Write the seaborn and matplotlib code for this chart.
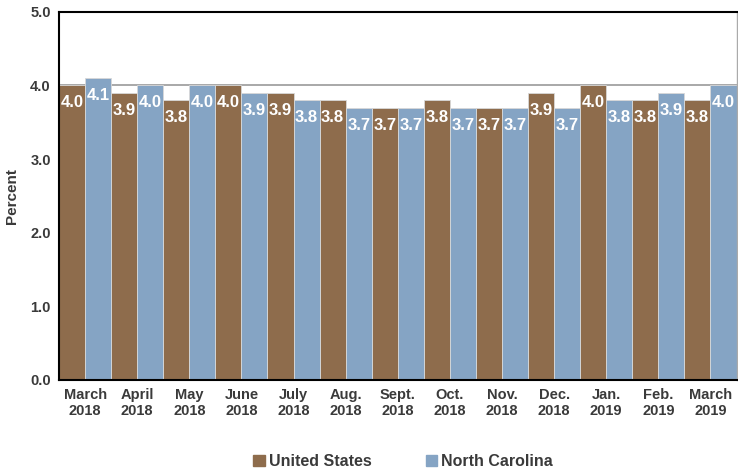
import pandas as pd
import matplotlib
matplotlib.use("Agg")
import matplotlib.pyplot as plt
import seaborn as sns

# ── Data ───────────────────────────────────────────────────────────────
months = ["March\n2018", "April\n2018", "May\n2018", "June\n2018", "July\n2018",
          "Aug.\n2018", "Sept.\n2018", "Oct.\n2018", "Nov.\n2018", "Dec.\n2018",
          "Jan.\n2019", "Feb.\n2019", "March\n2019"]
us_rate = [4.0, 3.9, 3.8, 4.0, 3.9, 3.8, 3.7, 3.8, 3.7, 3.9, 4.0, 3.8, 3.8]
nc_rate = [4.1, 4.0, 4.0, 3.9, 3.8, 3.7, 3.7, 3.7, 3.7, 3.7, 3.8, 3.9, 4.0]
series = ["United States", "North Carolina"]

COLORS = {"United States": "#8E6C4C", "North Carolina": "#85A4C4"}
TEXT = "#3a3a3a"

df = pd.DataFrame({
    "month": months * 2,
    "rate": us_rate + nc_rate,
    "area": [series[0]] * len(months) + [series[1]] * len(months),
})

sns.set_style("white")
plt.rcParams["font.family"] = ["Liberation Sans", "DejaVu Sans"]
plt.rcParams["font.weight"] = "bold"

fig = plt.figure(figsize=(7.38, 4.72), dpi=100)
ax = fig.add_axes([0.080, 0.195, 0.918, 0.780])

sns.barplot(data=df, x="month", y="rate", hue="area", order=months,
            hue_order=series, palette=COLORS, saturation=1, width=1.0, gap=0,
            edgecolor="#d8d8d8", linewidth=0.6, ax=ax, legend=False)

# gridlines behind the bars
ax.set_axisbelow(True)
ax.yaxis.grid(True, color="#999999", linewidth=1.2)
ax.set_ylim(0, 5)
ax.set_yticks([0, 1, 2, 3, 4, 5])
ax.set_yticklabels([f"{v:.1f}" for v in range(6)])
ax.set_xlim(-0.5, len(months) - 0.5)

# value labels inside the bars
for cont in ax.containers:
    ax.bar_label(cont, labels=[f"{b.get_height():.1f}" for b in cont],
                 label_type="edge", padding=-18, color="white",
                 fontsize=12, fontweight="bold")

for side in ["left", "top", "bottom"]:
    ax.spines[side].set_color("black")
    ax.spines[side].set_linewidth(1.5)
ax.spines["right"].set_color("#aaaaaa")
ax.spines["right"].set_linewidth(1.0)

ax.set_xlabel("")
ax.set_ylabel("Percent", fontsize=11, fontweight="bold", color=TEXT, labelpad=8)
ax.tick_params(axis="x", labelsize=10.5, colors=TEXT, length=0, pad=6)
ax.tick_params(axis="y", labelsize=10.5, colors=TEXT, length=0, pad=6)
for lab in ax.get_xticklabels() + ax.get_yticklabels():
    lab.set_fontweight("bold")

handles = [plt.Rectangle((0, 0), 1, 1, color=COLORS[s]) for s in series]
fig.legend(handles, series, loc="center", bbox_to_anchor=(0.546, 0.022), ncol=2,
           frameon=False, handlelength=0.7, handleheight=0.7, handletextpad=0.25,
           columnspacing=3.4, prop={"size": 11.5, "weight": "bold"},
           labelcolor=TEXT)

fig.savefig("out.png", dpi=100)
